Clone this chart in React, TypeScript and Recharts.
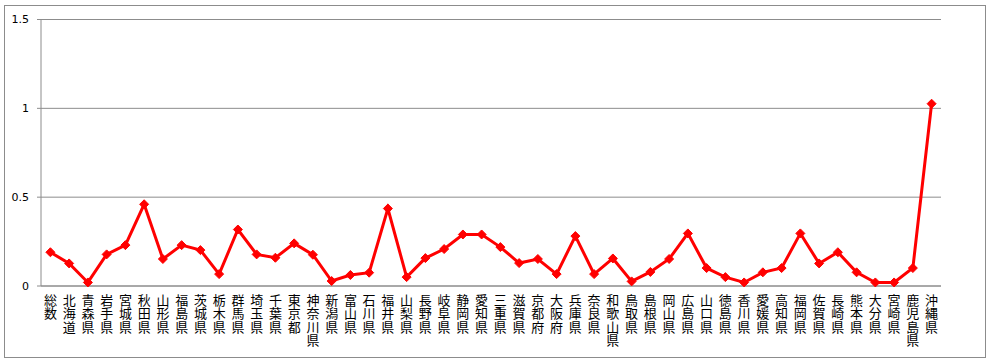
import { CartesianGrid, Line, LineChart, XAxis, YAxis } from 'recharts';

const prefectures = [
  '総数', '北海道', '青森県', '岩手県', '宮城県', '秋田県', '山形県', '福島県',
  '茨城県', '栃木県', '群馬県', '埼玉県', '千葉県', '東京都', '神奈川県', '新潟県',
  '富山県', '石川県', '福井県', '山梨県', '長野県', '岐阜県', '静岡県', '愛知県',
  '三重県', '滋賀県', '京都府', '大阪府', '兵庫県', '奈良県', '和歌山県', '鳥取県',
  '島根県', '岡山県', '広島県', '山口県', '徳島県', '香川県', '愛媛県', '高知県',
  '福岡県', '佐賀県', '長崎県', '熊本県', '大分県', '宮崎県', '鹿児島県', '沖縄県',
];

const values = [
  0.19, 0.127, 0.02, 0.178, 0.23, 0.46, 0.152, 0.23,
  0.202, 0.067, 0.318, 0.178, 0.159, 0.24, 0.176, 0.028,
  0.062, 0.075, 0.436, 0.05, 0.157, 0.208, 0.29, 0.29,
  0.219, 0.129, 0.152, 0.067, 0.281, 0.067, 0.155, 0.026,
  0.079, 0.152, 0.296, 0.101, 0.05, 0.02, 0.077, 0.101,
  0.296, 0.127, 0.19, 0.077, 0.02, 0.02, 0.101, 1.026,
];

const yTicks = [0, 0.5, 1, 1.5];

const data = prefectures.map((name, i) => ({ name, value: values[i] }));

// stacked vertical label, one character per line
function VerticalTick({ x, y, payload }: any) {
  const chars = Array.from(String(payload.value));
  return (
    <g>
      {chars.map((c, i) => (
        <text
          key={i}
          x={x}
          y={y + 19 + i * 13.4}
          textAnchor="middle"
          fontSize={13}
          fontFamily="'Noto Sans CJK JP', sans-serif"
          fill="#000"
        >
          {c}
        </text>
      ))}
    </g>
  );
}

function Diamond({ cx, cy }: any) {
  if (cx == null || cy == null) return null;
  const r = 4.5;
  return (
    <polygon
      points={`${cx},${cy - r} ${cx + r},${cy} ${cx},${cy + r} ${cx - r},${cy}`}
      fill="#ff0000"
      stroke="#ff0000"
    />
  );
}

export default function App() {
  return (
    <div style={{ position: 'absolute', left: 0, top: 0, width: 989, height: 362, background: '#fff' }}>
      <div
        style={{
          position: 'absolute',
          left: 4,
          top: 5,
          width: 982,
          height: 353,
          border: '1px solid #8c8c8c',
          boxSizing: 'border-box',
        }}
      />
      <div style={{ position: 'absolute', left: 0, top: 0 }}>
        <LineChart
          width={989}
          height={362}
          data={data}
          margin={{ top: 19.5, right: 48, bottom: 0, left: 0 }}
        >
          <CartesianGrid vertical={false} stroke="#8c8c8c" />
          <XAxis
            dataKey="name"
            interval={0}
            height={76}
            padding={{ left: 9.4, right: 9.4 }}
            tickSize={0}
            tickMargin={0}
            tickLine={false}
            axisLine={{ stroke: '#8c8c8c' }}
            tick={<VerticalTick />}
          />
          <YAxis
            width={41}
            domain={[0, 1.5]}
            ticks={yTicks}
            tickSize={4}
            tickMargin={8}
            axisLine={{ stroke: '#8c8c8c' }}
            tickLine={{ stroke: '#8c8c8c' }}
            tick={{ fill: '#000', fontSize: 11, fontFamily: 'DejaVu Sans, sans-serif' }}
          />
          <Line
            type="linear"
            dataKey="value"
            stroke="#ff0000"
            strokeWidth={3}
            dot={<Diamond />}
            activeDot={false}
            isAnimationActive={false}
          />
        </LineChart>
      </div>
    </div>
  );
}
